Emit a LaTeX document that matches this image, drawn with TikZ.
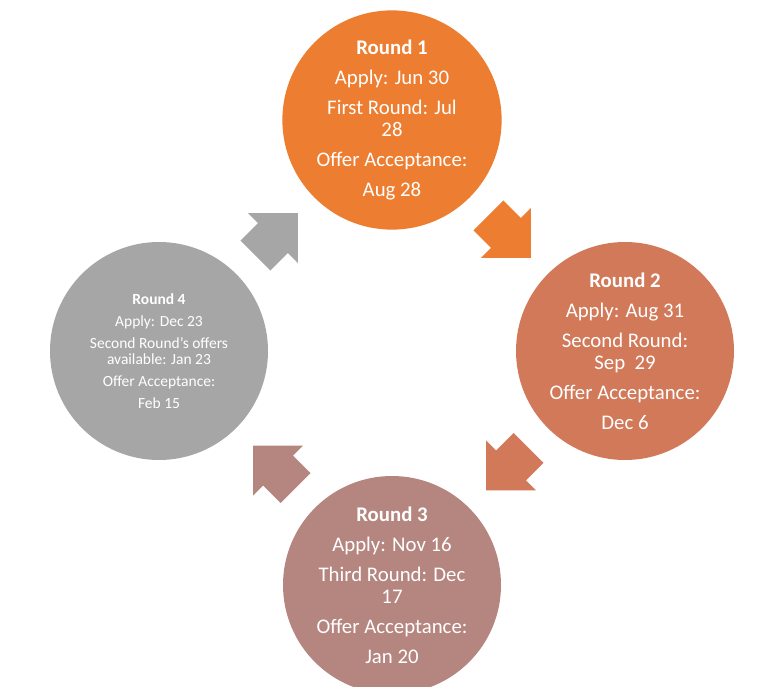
\documentclass[tikz,border=0pt]{standalone}
\usepackage{fontspec}
\setmainfont{Carlito}
\usetikzlibrary{shapes.arrows,calc}

\definecolor{rone}{HTML}{ED7D31}
\definecolor{rtwo}{HTML}{D17959}
\definecolor{rthree}{HTML}{B5867F}
\definecolor{rfour}{HTML}{A6A6A6}

\begin{document}
\begin{tikzpicture}
[x=1pt, y=-1pt,
round/.style = 
{shape=circle, minimum size=218pt, inner sep=0pt, text=white, align=center,
 font=\fontsize{20.8}{22}\selectfont},
small/.style = {font=\fontsize{15.5}{15.5}\selectfont},
arr/.style = 
{single arrow, minimum height=60pt, minimum width=70pt,
 inner xsep=0pt, inner ysep=21pt,
 single arrow head extend=14pt, single arrow tip angle=90}]
\useasboundingbox (0,0) rectangle (778,687);

\node [round, fill=rone](r1) at (392,120)
{\textbf{Round 1}\\[8pt]Apply: Jun 30\\[8pt]First Round: Jul\\28\\[8pt]Offer Acceptance:\\[8pt]Aug 28};
\node [round, fill=rtwo](r2) at (625,351)
{\textbf{Round 2}\\[8pt]Apply: Aug 31\\[8pt]Second Round:\\Sep~~29\\[8pt]Offer Acceptance:\\[8pt]Dec 6};
\node [round, fill=rthree](r3) at (392,585)
{\textbf{Round 3}\\[8pt]Apply: Nov 16\\[8pt]Third Round: Dec\\17\\[8pt]Offer Acceptance:\\[8pt]Jan 20};
\node [round, small, fill=rfour](r4) at (159,351)
{\textbf{Round 4}\\[6.5pt]Apply: Dec 23\\[6.5pt]Second Round's offers\\available: Jan 23\\[6.5pt]Offer Acceptance:\\[6.5pt]Feb 15};

%arrows between the rounds
\node [arr, fill=rone, rotate=-45, xshift=-9pt](a12) at ($(r1)!0.5!(r2)$){};
\node [arr, fill=rtwo, rotate=-135, xshift=-9pt](a23) at ($(r2)!0.5!(r3)$){};
\node [arr, fill=rthree, rotate=135, xshift=-9pt](a34) at ($(r3)!0.5!(r4)$){};
\node [arr, fill=rfour, rotate=45, xshift=-9pt](a41) at ($(r4)!0.5!(r1)$){};

\end{tikzpicture}
\end{document}
